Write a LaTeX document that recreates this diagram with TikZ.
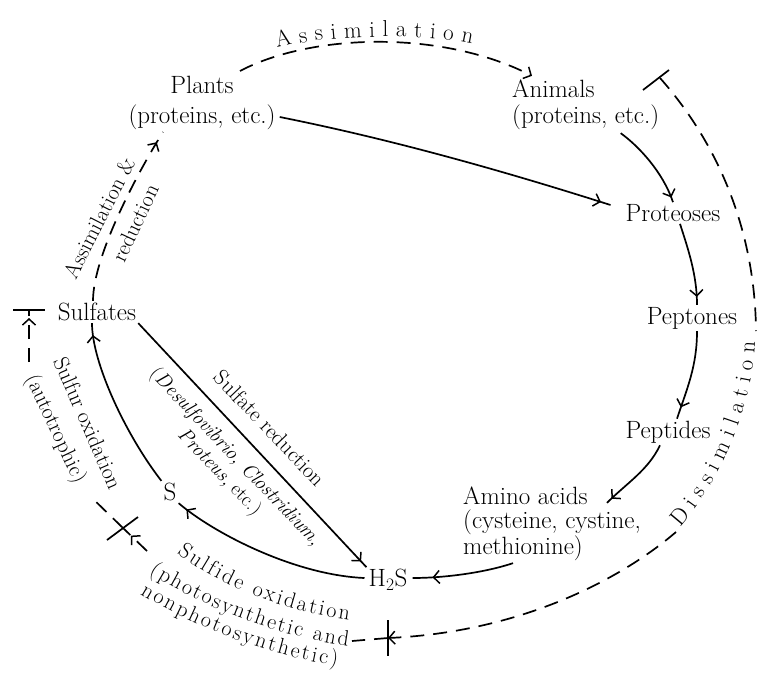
\documentclass[tikz,border=0pt]{standalone}
\usepackage{fontspec}
\usetikzlibrary{arrows.meta,decorations.markings,decorations.text,calc}
\newcommand\dfnt{\fontsize{25}{27}\selectfont}
\newcommand\lfnt{\fontsize{22}{26}\selectfont}
\newcommand\cfnt{\fontsize{23}{26}\selectfont}
\begin{document}
\begin{tikzpicture}[x=1pt,y=-1pt,
  every node/.style={font=\dfnt, inner sep=2pt},
  lbl/.style={font=\lfnt},
  conn/.style={line width=1.7pt},
  dsh/.style={line width=1.7pt, dash pattern=on 14pt off 9pt},
  tipat/.style={postaction={decorate}, decoration={markings, mark=at position #1 with {\arrow{Straight Barb[length=6pt,width=13pt,line width=1.5pt]}}}},
  endtip/.style={-{Straight Barb[length=6pt,width=13pt,line width=1.5pt]}},
  curved/.style={decorate, decoration={text along path, text align={fit to path}, text={|\lfnt|#1}}},
  curvedbig/.style={decorate, decoration={text along path, text align={fit to path}, text={|\cfnt|#1}}}
]
\fill[white] (0,0) rectangle (760,675);
\useasboundingbox (0,0) rectangle (760,675);

% nodes
\node[align=center, font=\fontsize{25}{30}\selectfont] (plants) at (202,103) {Plants\\(proteins, etc.)};
\node[anchor=west, align=left, font=\fontsize{25}{26}\selectfont] (animals) at (510,105) {Animals\\(proteins, etc.)};
\node (proteoses) at (673,213) {Proteoses};
\node (peptones) at (692,318) {Peptones};
\node (peptides) at (668,432) {Peptides};
\node[anchor=west, align=left, font=\fontsize{25}{24}\selectfont] (amino) at (461,524) {Amino acids\\(cysteine, cystine,\\methionine)};
\node (h2s) at (388,580) {H\textsubscript{2}S};
\node (s) at (170,492) {S};
\node (sulfates) at (97,312) {Sulfates};

% labels
\node[lbl, rotate=63] (lassim) at (99,218) {Assimilation \&};
\node[lbl, rotate=65] (lred) at (135,223) {reduction};
\node[lbl, rotate=-66.5] (lsox) at (88,423) {Sulfur oxidation};
\node[lbl, rotate=-65] (lauto) at (55,429) {(autotrophic)};
\node[lbl, rotate=-46.3] (lsred) at (270,428) {Sulfate reduction};
\node[rotate=-46.3, align=center, font=\fontsize{20}{22}\selectfont] (lorg) at (227,465) {(\textit{Desulfovibrio, Clostridium,}\\\textit{Proteus,} etc.)};

% solid connectors
\draw[conn, tipat=-10pt] ([shift={(2,14)}]plants.east) .. controls +(110,22) and +(-110,-35) .. ([shift={(-13,-8)}]proteoses.west);
\draw[conn, tipat=-5pt] ([shift={(35,1)}]animals.south) .. controls +(18,13) and +(-10,-30) .. (proteoses.north);
\draw[conn, tipat=-8pt] ([shift={(7,0)}]proteoses.south) .. controls +(8,25) and +(0,-30) .. ([shift={(5,0)}]peptones.north);
\draw[conn, tipat=-12pt] ([shift={(5,0)}]peptones.south) .. controls +(0,35) and +(10,-30) .. ([shift={(9,0)}]peptides.north);
\draw[conn, tipat=-6pt] ([shift={(-8,0)}]peptides.south) .. controls +(-12,25) and +(20,-20) .. ([shift={(146,18)}]amino.north west);
\draw[conn, tipat=-20pt] ([shift={(52,0)}]amino.south west) .. controls +(-30,10) and +(30,0) .. ([shift={(3,-2)}]h2s.east);
\draw[conn, tipat=-10pt] ([shift={(-2,-2)}]h2s.west) .. controls +(-70,-3) and +(35,30) .. (s.south east);
\draw[conn, tipat=-12pt] (s.north west) .. controls +(-35,-45) and +(0,40) .. ([shift={(-5,0)}]sulfates.south);
\draw[conn, tipat=-8pt] (sulfates.south east) -- (h2s.north west);

% dashed cycle
\coordinate (dtop) at (660,78);
\coordinate (dA) at (756,331);
\coordinate (dB) at (676,532);
\coordinate (barB) at (388,638);
\coordinate (sox1) at (352,641);
\coordinate (sox2) at (147,551);
\coordinate (cross) at (123,528);
\coordinate (sox3) at (90,496);
\coordinate (sox4) at (29,362);
\coordinate (tee) at (29,310);

\draw[dsh, tipat=-12pt] ([shift={(-4,0)}]sulfates.north) .. controls +(0,-45) and +(-25,40) .. ([shift={(-39,0)}]plants.south);
\draw[dsh, endtip] ([shift={(38,-3)}]plants.north) .. controls +(70,-37) and +(-92,-47) .. ([shift={(22,-2)}]animals.north west);
\draw[dsh] (dtop) .. controls +(55,62) and +(-1,-105) .. (dA);
\draw[dsh, endtip] (dB) .. controls +(-56,48) and +(132,-6) .. (barB);
\draw[dsh] (barB) -- (sox1);
\draw[dsh, tipat=-11pt] (sox2) -- (cross);
\draw[dsh] (cross) -- (sox3);
\draw[dsh, tipat=-8pt] (sox4) -- (tee);

% bars
\draw[conn] ([shift={(-17,12)}]dtop) -- ([shift={(9,-8)}]dtop);
\draw[conn] ([shift={(0,-18)}]barB) -- ([shift={(0,18)}]barB);
\draw[conn] ([shift={(-16,12)}]cross) -- ([shift={(15,-11)}]cross);
\draw[conn] ([shift={(-16,0)}]tee) -- ([shift={(16,0)}]tee);

% curved texts
\path[curvedbig=Assimilation] (277,48) .. controls (320,36) and (420,32) .. (472,44);
\path[curvedbig=Dissimilation] (680,527) .. controls (718,485) and (752,412) .. (755,342);
\path[curved={Sulfide oxidation}] (177,553) .. controls (225,590) and (290,612) .. (349,620);
\path[curved={(photosynthetic and}] (149,573) .. controls (200,605) and (270,635) .. (348,646);
\path[curved={nonphotosynthetic)}] (140,594) .. controls (190,624) and (260,654) .. (337,666);
\end{tikzpicture}
\end{document}
